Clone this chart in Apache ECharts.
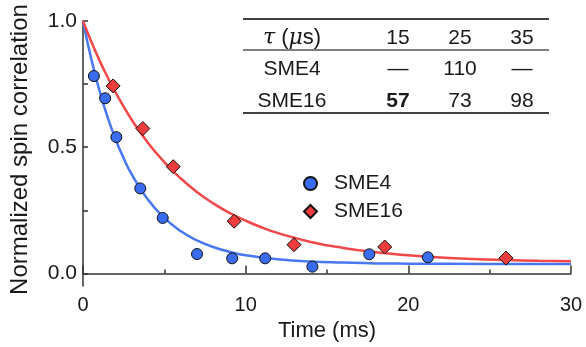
<!DOCTYPE html>
<html><head><meta charset="utf-8">
<script src="https://cdn.jsdelivr.net/npm/echarts@6/dist/echarts.min.js"></script>
<style>html,body{margin:0;padding:0;background:#fff}#c{width:586px;height:347px}</style>
</head><body><div id="c"></div>
<script>
// Measured data points (time in ms, normalized spin correlation)
const sme4Time  = [0.67, 1.36, 2.05, 3.52, 4.90, 7.01, 9.17, 11.2, 14.1, 17.6, 21.2];
const sme4Value = [0.782, 0.694, 0.540, 0.337, 0.220, 0.077, 0.060, 0.060, 0.027, 0.076, 0.064];
const sme16Time  = [1.85, 3.68, 5.55, 9.29, 12.97, 18.55, 26.0];
const sme16Value = [0.743, 0.574, 0.423, 0.207, 0.114, 0.105, 0.061];
// Fit curves
const fit4Time  = [0, 0.5, 1, 1.5, 2, 2.5, 3, 4, 5, 6, 7, 8, 9, 10, 12, 14, 16, 18, 20, 25, 30];
const fit4Value = [1.0, 0.852, 0.727, 0.621, 0.532, 0.456, 0.392, 0.292, 0.220, 0.168, 0.131, 0.105, 0.086, 0.072, 0.056, 0.047, 0.043, 0.040, 0.039, 0.038, 0.038];
const fit16Time  = [0, 0.5, 1, 1.5, 2, 3, 4, 5, 6, 7, 8, 9, 10, 11, 12, 14, 16, 18, 20, 22, 24, 26, 28, 30];
const fit16Value = [1.0, 0.920, 0.846, 0.779, 0.717, 0.608, 0.517, 0.441, 0.377, 0.323, 0.278, 0.240, 0.209, 0.182, 0.160, 0.125, 0.101, 0.084, 0.072, 0.063, 0.057, 0.053, 0.050, 0.048];
// Axis ticks
const yLabelTicks = [0, 0.5, 1.0];
const yTicks = [0, 0.25, 0.5, 0.75, 1.0];
// Table
const tableHeader = ['15', '25', '35'];
const tableRowNames = ['SME4', 'SME16'];
const tableSME4 = ['—', '110', '—'];
const tableSME16 = ['57', '73', '98'];

const zip = (a, b) => a.map((v, i) => [v, b[i]]);
const FONT = 'Liberation Sans';
const TXT = '#1a1a1a';

const chart = echarts.init(document.getElementById('c'), null, {renderer: 'canvas'});

const gLeft = 243, gRight = 549;
const colX = [292, 398, 460, 522];
const rowY = [38, 69, 101];
const TF = '21px ' + FONT;
const graphics = [
  {type: 'line', shape: {x1: gLeft, y1: 19, x2: gRight, y2: 19}, style: {stroke: '#000', lineWidth: 1.6}},
  {type: 'line', shape: {x1: gLeft, y1: 50, x2: gRight, y2: 50}, style: {stroke: '#000', lineWidth: 1.2}},
  {type: 'line', shape: {x1: gLeft, y1: 113, x2: gRight, y2: 113}, style: {stroke: '#000', lineWidth: 1.6}},
  {type: 'text', x: colX[0], y: rowY[0], style: {
    text: '{i|τ} ({i|μ}s)', font: '22px ' + FONT, fill: TXT, align: 'center', verticalAlign: 'middle',
    rich: {i: {fontStyle: 'italic', fontSize: 22, fontFamily: 'DejaVu Serif', fill: TXT}}
  }}
];
tableHeader.forEach((t, i) => graphics.push({type: 'text', x: colX[i + 1], y: rowY[0],
  style: {text: t, font: TF, fill: TXT, align: 'center', verticalAlign: 'middle'}}));
tableRowNames.forEach((t, i) => graphics.push({type: 'text', x: colX[0], y: rowY[i + 1],
  style: {text: t, font: TF, fill: TXT, align: 'center', verticalAlign: 'middle'}}));
tableSME4.forEach((t, i) => graphics.push({type: 'text', x: colX[i + 1], y: rowY[1],
  style: {text: t, font: TF, fill: TXT, align: 'center', verticalAlign: 'middle'}}));
tableSME16.forEach((t, i) => graphics.push({type: 'text', x: colX[i + 1], y: rowY[2],
  style: {text: t, font: (i === 0 ? 'bold ' : '') + TF, fill: TXT, align: 'center', verticalAlign: 'middle'}}));

chart.setOption({
  animation: false,
  backgroundColor: '#fff',
  grid: {left: 79, right: 15, top: 21, bottom: 57, containLabel: false},
  legend: {
    orient: 'vertical', left: 298, top: 168, itemGap: 7, itemWidth: 13, itemHeight: 13,
    textStyle: {fontFamily: FONT, fontSize: 21, color: TXT, padding: [0, 0, 0, 12]},
    data: [{name: 'SME4', icon: 'circle'}, {name: 'SME16', icon: 'diamond'}]
  },
  xAxis: {
    type: 'value', min: 0, max: 30, interval: 10,
    name: 'Time (ms)', nameLocation: 'middle', nameGap: 31,
    nameTextStyle: {fontFamily: FONT, fontSize: 22, color: TXT},
    axisLine: {lineStyle: {color: '#333', width: 1.5}},
    axisTick: {inside: true, length: 8, lineStyle: {color: '#333', width: 1.5}},
    minorTick: {show: true, splitNumber: 2, length: 4, lineStyle: {color: '#333', width: 1.5}},
    axisLabel: {fontFamily: FONT, fontSize: 20, color: TXT, margin: 9},
    splitLine: {show: false}
  },
  yAxis: {
    type: 'value', min: -0.05, max: 1.0,
    name: 'Normalized spin correlation', nameLocation: 'middle', nameGap: 51,
    nameTextStyle: {fontFamily: FONT, fontSize: 24, color: TXT, padding: [0, 0, 0, 8]},
    axisLine: {lineStyle: {color: '#333', width: 1.5}},
    axisTick: {inside: true, length: 5, customValues: yTicks, lineStyle: {color: '#333', width: 1.5}},
    axisLabel: {fontFamily: FONT, fontSize: 21, color: TXT, margin: 6, customValues: yLabelTicks,
      formatter: v => v.toFixed(1)},
    splitLine: {show: false}
  },
  graphic: graphics,
  series: [
    {name: 'SME4 fit', type: 'line', data: zip(fit4Time, fit4Value), smooth: true, showSymbol: false,
      lineStyle: {color: '#4a78f2', width: 2.5}, z: 2, clip: true},
    {name: 'SME16 fit', type: 'line', data: zip(fit16Time, fit16Value), smooth: true, showSymbol: false,
      lineStyle: {color: '#f2484a', width: 2.5}, z: 2, clip: true},
    {name: 'SME4', type: 'scatter', data: zip(sme4Time, sme4Value), symbol: 'circle', symbolSize: 11,
      itemStyle: {color: '#3a6cf0', borderColor: '#111', borderWidth: 1, opacity: 1}, z: 5},
    {name: 'SME16', type: 'scatter', data: zip(sme16Time, sme16Value), symbol: 'diamond', symbolSize: 14,
      itemStyle: {color: '#ef3d3d', borderColor: '#111', borderWidth: 1, opacity: 1}, z: 5}
  ]
});
</script>
</body></html>
